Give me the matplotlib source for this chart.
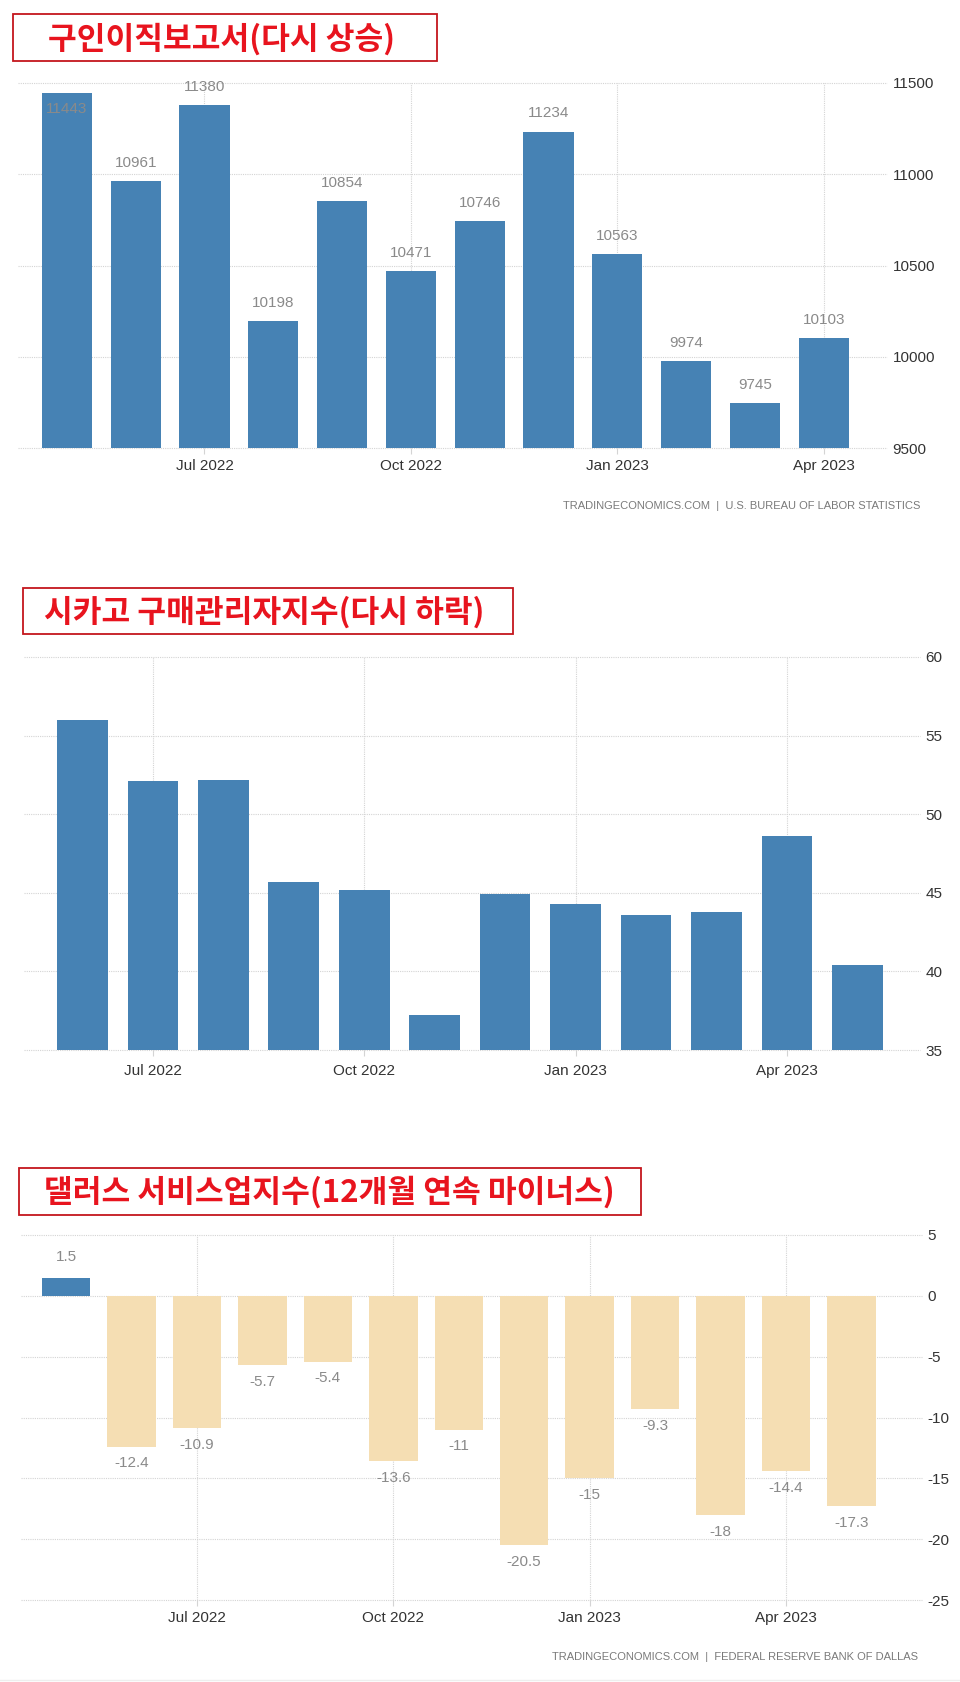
import matplotlib
matplotlib.use("Agg")
import matplotlib.pyplot as plt
from matplotlib.patches import Rectangle
from matplotlib.lines import Line2D

plt.rcParams['font.family'] = ['Liberation Sans', 'DejaVu Sans']
plt.rcParams['axes.unicode_minus'] = False

W, H = 960, 1682

# ---------------- data ----------------
jolts_months = ["May 2022", "Jun 2022", "Jul 2022", "Aug 2022", "Sep 2022", "Oct 2022",
                "Nov 2022", "Dec 2022", "Jan 2023", "Feb 2023", "Mar 2023", "Apr 2023"]
jolts_values = [11443, 10961, 11380, 10198, 10854, 10471, 10746, 11234, 10563, 9974, 9745, 10103]

pmi_months = ["Jun 2022", "Jul 2022", "Aug 2022", "Sep 2022", "Oct 2022", "Nov 2022",
              "Dec 2022", "Jan 2023", "Feb 2023", "Mar 2023", "Apr 2023", "May 2023"]
pmi_values = [56.0, 52.1, 52.2, 45.7, 45.2, 37.2, 44.9, 44.3, 43.6, 43.8, 48.6, 40.4]

dallas_months = ["May 2022", "Jun 2022", "Jul 2022", "Aug 2022", "Sep 2022", "Oct 2022",
                 "Nov 2022", "Dec 2022", "Jan 2023", "Feb 2023", "Mar 2023", "Apr 2023", "May 2023"]
dallas_values = [1.5, -12.4, -10.9, -5.7, -5.4, -13.6, -11, -20.5, -15, -9.3, -18, -14.4, -17.3]

tick_months = ["Jul 2022", "Oct 2022", "Jan 2023", "Apr 2023"]

jolts_yticks = [9500, 10000, 10500, 11000, 11500]
pmi_yticks = [35, 40, 45, 50, 55, 60]
dallas_yticks = [-25, -20, -15, -10, -5, 0, 5]

titles = ["구인이직보고서(다시 상승)",
          "시카고 구매관리자지수(다시 하락)",
          "댈러스 서비스업지수(12개월 연속 마이너스)"]
sources = ["TRADINGECONOMICS.COM  |  U.S. BUREAU OF LABOR STATISTICS",
           "TRADINGECONOMICS.COM  |  FEDERAL RESERVE BANK OF DALLAS"]

# ---------------- style ----------------
BLUE = '#4682b4'
WHEAT = '#f5deb3'
GRID = '#d4d4d4'
TICKC = '#333333'
LABELC = '#8a8a8a'
RED_TXT = '#e8141e'
RED_BOX = '#c4161c'

fig = plt.figure(figsize=(W / 100, H / 100), dpi=100)
fig.patch.set_facecolor('white')


def px_axes(x0, y0, x1, y1):
    return fig.add_axes([x0 / W, 1 - y1 / H, (x1 - x0) / W, (y1 - y0) / H])


def style(ax, months, yticks, xlim, xpad):
    ax.set_facecolor('none')
    for s in ax.spines.values():
        s.set_visible(False)
    ax.set_ylim(yticks[0], yticks[-1])
    ax.set_yticks(yticks)
    ax.set_yticklabels([f"{t:g}" for t in yticks])
    ax.yaxis.tick_right()
    ax.tick_params(axis='y', length=0, pad=4, labelsize=11, labelcolor=TICKC)
    pos = [months.index(m) for m in tick_months]
    ax.set_xticks(pos)
    ax.set_xticklabels(tick_months)
    ax.tick_params(axis='x', length=4, width=0.8, color=GRID, pad=xpad,
                   labelsize=11, labelcolor=TICKC)
    ax.set_xlim(*xlim)
    ax.grid(True, color=GRID, linestyle=(0, (1, 1)), linewidth=0.8)
    ax.set_axisbelow(True)
    for gl in ax.get_ygridlines() + ax.get_xgridlines():
        gl.set_clip_on(False)


def title_box(text, x0, y0, x1, y1, tx, ty):
    fig.patches.append(Rectangle((x0 / W, 1 - y1 / H), (x1 - x0) / W, (y1 - y0) / H,
                                 transform=fig.transFigure, fill=False,
                                 edgecolor=RED_BOX, linewidth=1.3))
    fig.text(tx / W, 1 - ty / H, text, ha='center', va='center', color=RED_TXT,
             fontsize=22.5, fontweight='bold',
             family=['Noto Sans CJK KR', 'DejaVu Sans'])


# ---------------- chart 1: JOLTS ----------------
title_box(titles[0], 13, 14, 437, 61, 222, 39)
ax1 = px_axes(18, 83, 887, 448)
x1 = list(range(len(jolts_values)))
ax1.bar(x1, jolts_values, width=0.73, color=BLUE, zorder=2)
style(ax1, jolts_months, jolts_yticks, (-0.71, 11.92), 4)
off = 13  # points
ytop = jolts_yticks[-1]
ppd = (365 / (ytop - jolts_yticks[0]))  # px per data unit
for i, v in zip(x1, jolts_values):
    inside = v + off / 0.72 / ppd > ytop
    ax1.annotate(f"{v}", (i, v), xytext=(0, -11 if inside else off),
                 textcoords='offset points', ha='center', va='center',
                 color=LABELC, fontsize=11, zorder=3)
fig.text(920 / W, 1 - 506 / H, sources[0], ha='right', va='center',
         color='#7a7a7a', fontsize=8)

# ---------------- chart 2: Chicago PMI ----------------
title_box(titles[1], 23, 588, 513, 634, 264, 612)
ax2 = px_axes(24, 657, 920, 1050)
x2 = list(range(len(pmi_values)))
ax2.bar(x2, pmi_values, width=0.72, color=BLUE, zorder=2)
style(ax2, pmi_months, pmi_yticks, (-0.83, 11.89), 6)

# ---------------- chart 3: Dallas services ----------------
title_box(titles[2], 19, 1168, 641, 1215, 329, 1192)
ax3 = px_axes(21, 1235, 922, 1600)
x3 = list(range(len(dallas_values)))
cols = [BLUE if v >= 0 else WHEAT for v in dallas_values]
ax3.bar(x3, dallas_values, width=0.74, color=cols, zorder=2)
style(ax3, dallas_months, dallas_yticks, (-0.69, 13.08), 4)
for i, v in zip(x3, dallas_values):
    ax3.annotate(f"{v:g}", (i, v), xytext=(0, 15 if v >= 0 else -12),
                 textcoords='offset points', ha='center', va='center',
                 color=LABELC, fontsize=11, zorder=3)
fig.text(918 / W, 1 - 1657 / H, sources[1], ha='right', va='center',
         color='#7a7a7a', fontsize=8)

fig.lines.append(Line2D([0, 1], [1 - 1680 / H] * 2, transform=fig.transFigure,
                        color='#eeeeee', linewidth=1))

fig.savefig('out.png', dpi=100)
